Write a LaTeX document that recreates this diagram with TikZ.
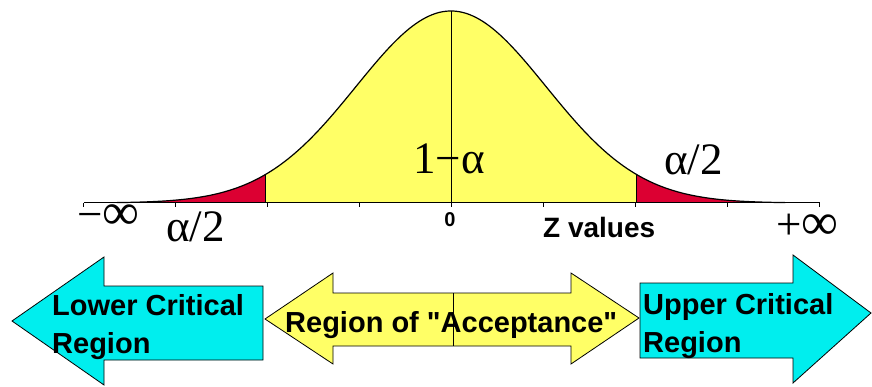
\documentclass[tikz,border=0pt]{standalone}
\usepackage{fontspec}
\setmainfont{Liberation Serif}
\newfontfamily\arialf{Liberation Sans}
\definecolor{cyanfill}{RGB}{0,238,238}
\definecolor{yelfill}{RGB}{255,255,102}
\definecolor{redfill}{RGB}{220,0,50}
\tikzset{
  serlab/.style={font=\fontsize{45}{50}\selectfont, inner sep=0pt, anchor=base west},
  sanslab/.style={font=\arialf\bfseries\fontsize{29}{38}\selectfont, inner sep=0pt, anchor=base west, align=left},
  arrowshape/.style={draw=black, line width=0.8pt, line join=miter},
}
\begin{document}
\begin{tikzpicture}[x=1pt,y=-1pt]
\useasboundingbox (0,0) rectangle (872,387);
\def\cx{451}\def\sg{95}\def\bz{1.95}\def\tz{3.52}
% curve fills
\fill[yelfill] plot[domain=-\bz:\bz,samples=120] ({\cx+\sg*\x},{203-192*exp(-\x*\x/2)}) -- ({\cx+\sg*\bz},203) -- ({\cx-\sg*\bz},203) -- cycle;
\fill[redfill] plot[domain=-\tz:-\bz,samples=60] ({\cx+\sg*\x},{203-192*exp(-\x*\x/2)}) -- ({\cx-\sg*\bz},203) -- ({\cx-\sg*\tz},203) -- cycle;
\fill[redfill] plot[domain=\bz:\tz,samples=60] ({\cx+\sg*\x},{203-192*exp(-\x*\x/2)}) -- ({\cx+\sg*\tz},203) -- ({\cx+\sg*\bz},203) -- cycle;
\draw[line width=1.2pt] plot[domain=-\tz:\tz,samples=200] ({\cx+\sg*\x},{203-192*exp(-\x*\x/2)});
% boundaries and center line
\draw[line width=0.9pt] ({\cx-\sg*\bz},203) -- ({\cx-\sg*\bz},{203-192*exp(-\bz*\bz/2)});
\draw[line width=0.9pt] ({\cx+\sg*\bz},203) -- ({\cx+\sg*\bz},{203-192*exp(-\bz*\bz/2)});
\draw[line width=1pt] (\cx,203) -- (\cx,11);
% axis
\draw[line width=1pt] (84,203) -- (820,203);
\foreach \k in {-4,...,4} \draw[line width=0.8pt] ({\cx+92*\k},203) -- ({\cx+92*\k},207);
% labels
\node[serlab] (minf) at (77,230) {−\scalebox{1.15}{∞}};
\node[serlab] (alow) at (166,242) {α/2};
\node[serlab] (onema) at (413,174) {1−α};
\node[serlab] (aupp) at (664,175) {α/2};
\node[serlab] (pinf) at (776,240) {+\scalebox{1.15}{∞}};
\node[font=\arialf\bfseries\fontsize{20}{24}\selectfont, inner sep=0pt, anchor=base] (zero) at (450,227) {0};
\node[font=\arialf\bfseries\fontsize{28}{32}\selectfont, inner sep=0pt, anchor=base west] (zval) at (543,238) {Z values};
% arrows
\draw[arrowshape, fill=cyanfill] (12,321) -- (104,257) -- (104,286) -- (263,286) -- (263,360) -- (104,360) -- (104,385) -- cycle;
\draw[arrowshape, fill=yelfill] (265,319) -- (333,273) -- (333,293) -- (571,293) -- (571,273) -- (639,318) -- (571,364) -- (571,346) -- (333,346) -- (333,364) -- cycle;
\draw[line width=0.8pt] (453,293) -- (453,346);
\draw[arrowshape, fill=cyanfill] (640,283) -- (793,283) -- (793,255) -- (871,313) -- (793,383) -- (793,358) -- (640,358) -- cycle;
\node[sanslab] (lower) at (52,353) {Lower Critical\\Region};
\node[sanslab] (accept) at (285,332) {Region of "Acceptance"};
\node[sanslab] (upper) at (643,352) {Upper Critical\\Region};
\end{tikzpicture}
\end{document}
